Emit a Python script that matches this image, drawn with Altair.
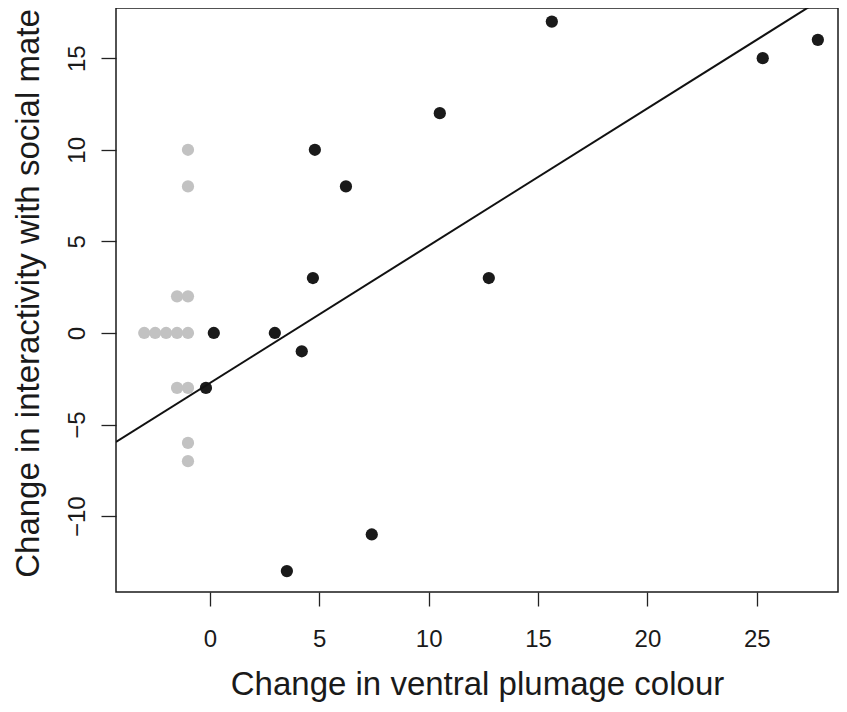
import altair as alt
import pandas as pd

# Black points (birds with plumage change)
black_x = [15.63, 27.79, 25.27, 10.51, 4.80, 6.22, 4.71, 12.75, 0.18, 2.97, 4.20, -0.18, 7.40, 3.52]
black_y = [17, 16, 15, 12, 10, 8, 3, 3, 0, 0, -1, -3, -11, -13]

# Grey points
grey_x = [-1.0, -1.0, -1.5, -1.0, -3.0, -2.5, -2.0, -1.5, -1.0, -1.5, -1.0, -1.0, -1.0]
grey_y = [10, 8, 2, 2, 0, 0, 0, 0, 0, -3, -3, -6, -7]

x_ticks = [0, 5, 10, 15, 20, 25]
y_ticks = [-10, -5, 0, 5, 10, 15]
x_domain = [-4.29, 28.71]
y_domain = [-14.14, 17.74]

x_title = "Change in ventral plumage colour"
y_title = "Change in interactivity with social mate"

FONT = "Liberation Sans"

black_df = pd.DataFrame({"x": black_x, "y": black_y})
grey_df = pd.DataFrame({"x": grey_x, "y": grey_y})

xscale = alt.Scale(domain=x_domain, nice=False, zero=False)
yscale = alt.Scale(domain=y_domain, nice=False, zero=False)

xaxis = alt.Axis(
    values=x_ticks, title=x_title, grid=False, domain=False,
    tickSize=14, tickColor="#222222", tickWidth=1.3,
    labelFont=FONT, labelFontSize=24, labelColor="#1a1a1a", labelPadding=21,
    labelBaseline="top", labelAlign="center",
    titleFont=FONT, titleFontSize=33, titleFontWeight="normal", titleColor="#1a1a1a",
    titleBaseline="alphabetic", titleY=102,
)
yaxis = alt.Axis(
    values=y_ticks, title=y_title, grid=False, domain=False,
    tickSize=15, tickColor="#222222", tickWidth=1.3,
    labelFont=FONT, labelFontSize=24, labelColor="#1a1a1a", labelPadding=17,
    labelAngle=270, labelAlign="center", labelBaseline="alphabetic",
    titleFont=FONT, titleFontSize=33, titleFontWeight="normal", titleColor="#1a1a1a",
    titleAngle=270, titleAlign="center", titleBaseline="alphabetic",
    titleX=-78, titleY=285,
)

grey = alt.Chart(grey_df).mark_circle(size=150, opacity=1, color="#c2c2c2").encode(
    x=alt.X("x:Q", scale=xscale, axis=xaxis),
    y=alt.Y("y:Q", scale=yscale, axis=yaxis),
)
black = alt.Chart(black_df).mark_circle(size=150, opacity=1, color="#1a1a1a").encode(
    x=alt.X("x:Q", scale=xscale, axis=xaxis),
    y=alt.Y("y:Q", scale=yscale, axis=yaxis),
)
fit = alt.Chart(black_df).transform_regression(
    "x", "y", extent=x_domain
).mark_line(color="#111111", strokeWidth=2, clip=True).encode(
    x=alt.X("x:Q", scale=xscale, axis=xaxis),
    y=alt.Y("y:Q", scale=yscale, axis=yaxis),
)

chart = alt.layer(grey, black, fit).properties(
    width=722, height=584,
    autosize=alt.AutoSizeParams(type="none"),
    padding={"left": 108, "top": 0, "right": 1, "bottom": 112},
    background="white",
).configure_view(stroke="#1a1a1a", strokeWidth=1.5)

chart.save("out.html", embed_options={"renderer": "svg", "actions": False})
